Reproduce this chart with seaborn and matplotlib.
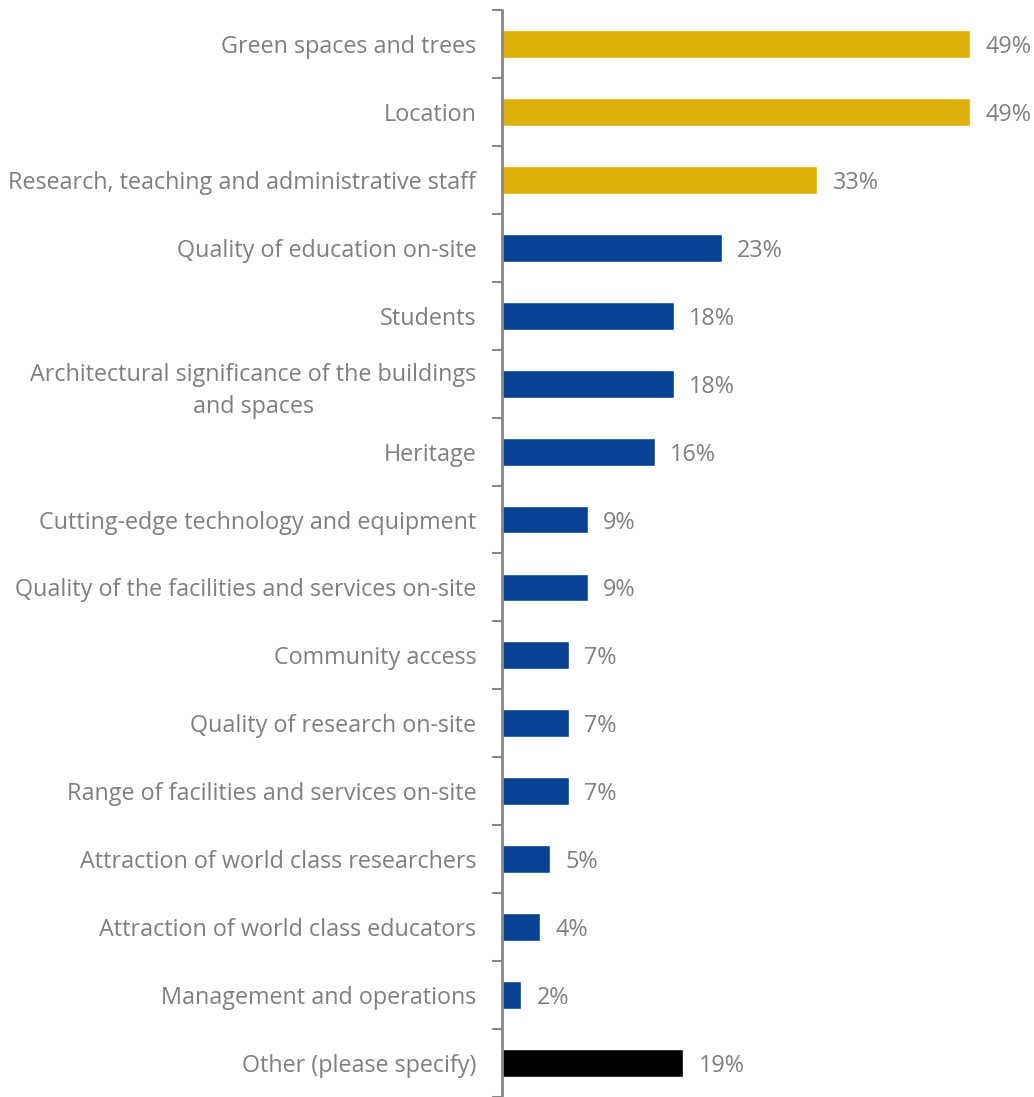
import matplotlib
matplotlib.use("Agg")
import matplotlib.pyplot as plt
import seaborn as sns
import pandas as pd
import numpy as np

categories = [
    "Green spaces and trees",
    "Location",
    "Research, teaching and administrative staff",
    "Quality of education on-site",
    "Students",
    "Architectural significance of the buildings\nand spaces",
    "Heritage",
    "Cutting-edge technology and equipment",
    "Quality of the facilities and services on-site",
    "Community access",
    "Quality of research on-site",
    "Range of facilities and services on-site",
    "Attraction of world class researchers",
    "Attraction of world class educators",
    "Management and operations",
    "Other (please specify)",
]
values = [49, 49, 33, 23, 18, 18, 16, 9, 9, 7, 7, 7, 5, 4, 2, 19]
groups = ["top"] * 3 + ["rest"] * 12 + ["other"]

palette = {"top": "#DDB007", "rest": "#074293", "other": "#000000"}
text_grey = "#7F7F7F"

sns.set_theme(style="white")
plt.rcParams["font.family"] = ["Open Sans", "DejaVu Sans"]

df = pd.DataFrame({"category": categories, "value": values, "group": groups})

fig = plt.figure(figsize=(10.34, 10.97), dpi=100)
ax = fig.add_axes([0.4855, 0.0, 0.5145, 0.9909])

sns.barplot(data=df, x="value", y="category", hue="group", palette=palette,
            order=categories, dodge=False, width=0.41, legend=False, ax=ax,
            saturation=1)

ax.set_xlim(0, 55.7)
ax.set_ylim(len(categories) - 0.5, -0.5)
ax.set_xlabel("")
ax.set_ylabel("")
ax.set_xticks([])

for s in ["top", "right", "bottom"]:
    ax.spines[s].set_visible(False)
ax.spines["left"].set_color("#888888")
ax.spines["left"].set_linewidth(2)

ax.set_yticks(range(len(categories)))
ax.set_yticklabels(categories, fontsize=16.8, color=text_grey, multialignment="center")
for lbl in ax.get_yticklabels():
    lbl.set_linespacing(1.48)
ax.tick_params(axis="y", which="major", length=0, pad=18.5)
ax.set_yticks(np.arange(-0.5, len(categories), 1), minor=True)
ax.tick_params(axis="y", which="minor", length=7, width=1.5, color="#888888", left=True)

for i, v in enumerate(values):
    ax.text(v + 1.6, i, f"{v}%", va="center_baseline", ha="left", fontsize=16.8,
            color=text_grey, clip_on=False)

fig.savefig("out.png", dpi=100)
